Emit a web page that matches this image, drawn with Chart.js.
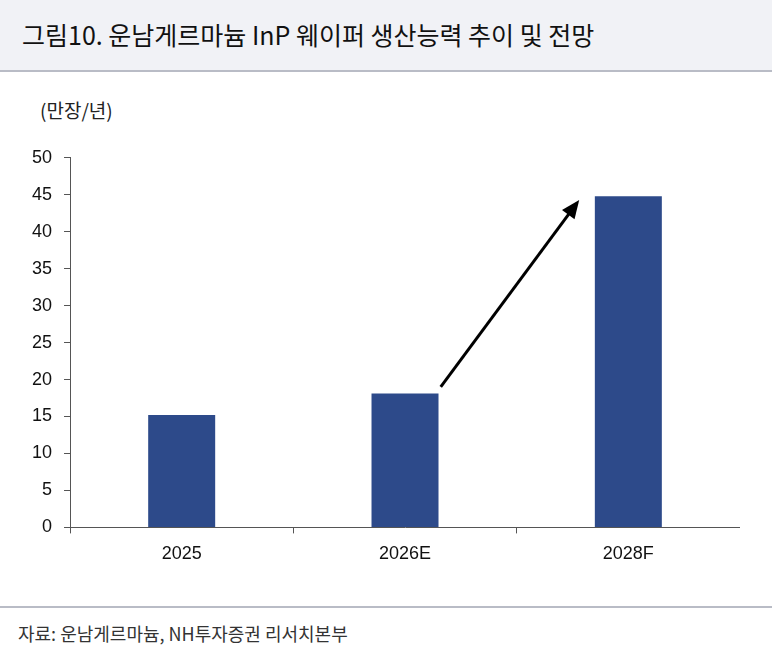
<!DOCTYPE html>
<html><head><meta charset="utf-8">
<script src="https://cdn.jsdelivr.net/npm/chart.js@4"></script>
<style>
body{margin:0;background:#fff;font-family:"Noto Sans CJK KR","Noto Sans",sans-serif;}
#title{position:absolute;left:0;top:0;width:772px;height:70px;background:#f1f2f6;border-bottom:2px solid #b9bcc6;}
#title span{position:absolute;left:22px;top:16px;font-size:25px;color:#111;}
#unit{position:absolute;left:40px;top:96px;font-size:19px;color:#222;}
#foot{position:absolute;left:0;top:606px;width:772px;border-top:2px solid #b9bcc6;}
#src{position:absolute;left:18px;top:620px;font-size:18px;color:#333;}
#wrap{position:absolute;left:20px;top:135px;width:720px;height:440px;}
</style></head><body>
<div id="title"><span>그림10. 운남게르마늄 InP 웨이퍼 생산능력 추이 및 전망</span></div>
<div id="unit">(만장/년)</div>
<div id="wrap"><canvas id="c"></canvas></div>
<div id="foot"></div>
<div id="src">자료: 운남게르마늄, NH투자증권 리서치본부</div>
<script>
var categories = ['2025', '2026E', '2028F'];
var capacity = [15.2, 18.1, 44.8];
var yTicks = [0, 5, 10, 15, 20, 25, 30, 35, 40, 45, 50];

var arrowPlugin = {
  id: 'arrow',
  afterDatasetsDraw: function(chart) {
    var x = chart.scales.x, y = chart.scales.y, ctx = chart.ctx;
    var x1 = x.getPixelForValue(1.16), y1 = y.getPixelForValue(19);
    var x2 = x.getPixelForValue(1.78), y2 = y.getPixelForValue(44.3);
    ctx.save();
    ctx.strokeStyle = '#000'; ctx.fillStyle = '#000'; ctx.lineWidth = 3;
    var a = Math.atan2(y2 - y1, x2 - x1), L = 20, w = 0.4;
    ctx.beginPath(); ctx.moveTo(x1, y1);
    ctx.lineTo(x2 - L * 0.8 * Math.cos(a), y2 - L * 0.8 * Math.sin(a)); ctx.stroke();
    ctx.beginPath(); ctx.moveTo(x2, y2);
    ctx.lineTo(x2 - L * Math.cos(a - w), y2 - L * Math.sin(a - w));
    ctx.lineTo(x2 - L * Math.cos(a + w), y2 - L * Math.sin(a + w));
    ctx.closePath(); ctx.fill();
    ctx.restore();
  }
};

new Chart(document.getElementById('c'), {
  type: 'bar',
  data: { labels: categories, datasets: [{ data: capacity, backgroundColor: '#2d4a8a', barPercentage: 0.3, categoryPercentage: 1 }] },
  options: {
    responsive: true, maintainAspectRatio: false, animation: false,
    layout: { padding: { top: 10, right: 0 } },
    plugins: { legend: { display: false }, tooltip: { enabled: false } },
    scales: {
      x: {
        grid: { display: true, drawOnChartArea: false, offset: true, color: '#555', tickLength: 6 },
        border: { color: '#555' },
        ticks: { color: '#111', font: { size: 18, family: 'Liberation Sans' }, padding: 10 }
      },
      y: {
        min: 0, max: 50,
        afterBuildTicks: function(s) { s.ticks = yTicks.map(function(v) { return { value: v }; }); },
        grid: { drawOnChartArea: false, color: '#555', tickLength: 6 },
        border: { color: '#555' },
        ticks: { color: '#111', font: { size: 18, family: 'Liberation Sans' }, padding: 12 }
      }
    }
  },
  plugins: [arrowPlugin]
});
</script>
</body></html>
